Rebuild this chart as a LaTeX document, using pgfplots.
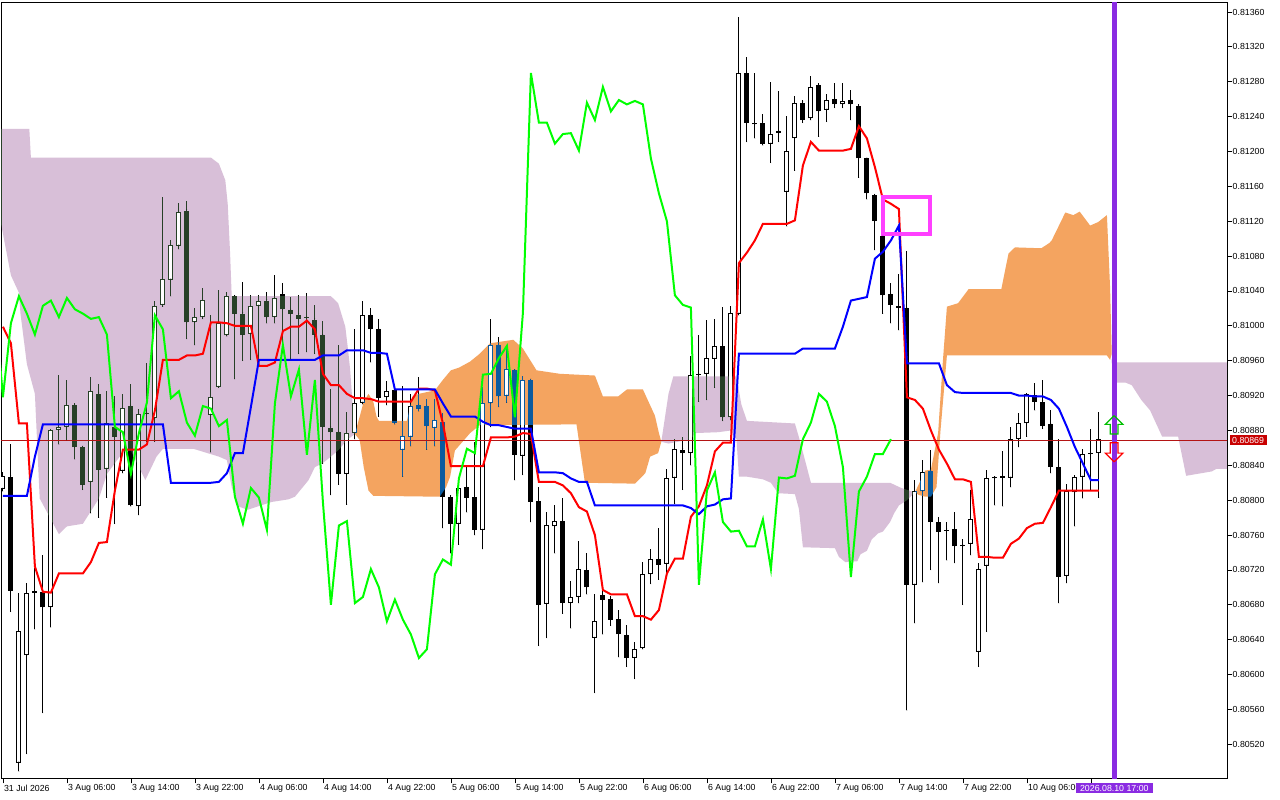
\documentclass[border=0pt]{standalone}
\usepackage{fontspec}
\setmainfont{Liberation Sans}
\usepackage{pgfplots}
\usepackage{pgfplotstable}
\pgfplotsset{compat=1.18}
\definecolor{thD}{RGB}{39,64,39}
\definecolor{orD}{RGB}{11,91,159}
\definecolor{bviolet}{RGB}{138,43,226}
\definecolor{mag}{RGB}{255,64,255}
\definecolor{pline}{RGB}{180,20,20}
\definecolor{plabel}{RGB}{200,0,0}
\definecolor{lim}{RGB}{0,255,0}
\pgfplotstableread{
i O H L C
0 0.80813 0.80832 0.80810 0.80828
1 0.80827 0.80864 0.80672 0.80696
2 0.80499 0.80693 0.80489 0.80650
3 0.80622 0.80705 0.80509 0.80694
4 0.80694 0.80722 0.80652 0.80696
5 0.80695 0.80737 0.80556 0.80677
6 0.80677 0.80882 0.80654 0.80880
7 0.80881 0.80944 0.80864 0.80884
8 0.80884 0.80938 0.80869 0.80909
9 0.80909 0.80911 0.80847 0.80861
10 0.80861 0.80862 0.80812 0.80818
11 0.80821 0.80941 0.80785 0.80925
12 0.80922 0.80933 0.80780 0.80835
13 0.80836 0.80925 0.80803 0.80889
14 0.80884 0.80920 0.80773 0.80873
15 0.80834 0.80922 0.80831 0.80906
16 0.80908 0.80933 0.80793 0.80794
17 0.80793 0.80905 0.80783 0.80899
18 0.80899 0.80957 0.80867 0.80900
19 0.80894 0.81029 0.80867 0.81023
20 0.81024 0.81148 0.81022 0.81054
21 0.81053 0.81099 0.81034 0.81093
22 0.81092 0.81141 0.81088 0.81131
23 0.81132 0.81143 0.80985 0.81004
24 0.81004 0.81020 0.80978 0.81010
25 0.81010 0.81043 0.81008 0.81030
26 0.80898 0.81012 0.80855 0.80918
27 0.80930 0.81041 0.80929 0.81003
28 0.80989 0.81039 0.80988 0.81034
29 0.81034 0.81035 0.80939 0.81014
30 0.81014 0.81050 0.80960 0.80990
31 0.80991 0.81035 0.80961 0.81023
32 0.81023 0.81035 0.80959 0.81029
33 0.81029 0.81039 0.81003 0.81010
34 0.81010 0.81058 0.81003 0.81032
35 0.81037 0.81049 0.80970 0.81019
36 0.81018 0.81033 0.80961 0.81014
37 0.81013 0.81035 0.80968 0.81008
38 0.81009 0.81038 0.80970 0.81010
39 0.81007 0.81024 0.80968 0.80990
40 0.80989 0.81005 0.80842 0.80884
41 0.80883 0.80928 0.80806 0.80878
42 0.80878 0.80978 0.80818 0.80830
43 0.80830 0.80901 0.80795 0.80877
44 0.80877 0.80996 0.80870 0.80912
45 0.80912 0.81028 0.80910 0.81012
46 0.81012 0.81020 0.80958 0.80996
47 0.80996 0.81008 0.80896 0.80917
48 0.80918 0.80937 0.80909 0.80925
49 0.80926 0.80928 0.80887 0.80889
50 0.80858 0.80931 0.80827 0.80874
51 0.80873 0.80922 0.80862 0.80908
52 0.80909 0.80941 0.80902 0.80905
53 0.80908 0.80916 0.80858 0.80885
54 0.80883 0.80916 0.80862 0.80892
55 0.80890 0.80900 0.80768 0.80804
56 0.80804 0.80806 0.80739 0.80773
57 0.80773 0.80815 0.80749 0.80814
58 0.80815 0.80840 0.80786 0.80803
59 0.80804 0.80867 0.80760 0.80766
60 0.80766 0.80930 0.80744 0.80911
61 0.80911 0.81008 0.80884 0.80978
62 0.80978 0.80987 0.80907 0.80919
63 0.80920 0.80975 0.80912 0.80950
64 0.80949 0.80951 0.80823 0.80852
65 0.80851 0.80942 0.80829 0.80938
66 0.80938 0.80939 0.80775 0.80798
67 0.80799 0.80815 0.80633 0.80680
68 0.80681 0.80786 0.80642 0.80771
69 0.80770 0.80795 0.80739 0.80776
70 0.80776 0.80802 0.80670 0.80682
71 0.80682 0.80707 0.80653 0.80689
72 0.80689 0.80753 0.80682 0.80721
73 0.80720 0.80739 0.80692 0.80700
74 0.80642 0.80692 0.80579 0.80661
75 0.80691 0.80700 0.80646 0.80686
76 0.80687 0.80690 0.80656 0.80663
77 0.80664 0.80674 0.80620 0.80646
78 0.80645 0.80657 0.80609 0.80619
79 0.80619 0.80637 0.80595 0.80629
80 0.80630 0.80729 0.80629 0.80715
81 0.80715 0.80744 0.80704 0.80732
82 0.80732 0.80768 0.80709 0.80726
83 0.80727 0.80836 0.80714 0.80825
84 0.80826 0.80870 0.80796 0.80859
85 0.80858 0.80872 0.80812 0.80854
86 0.80854 0.80965 0.80840 0.80944
87 0.80944 0.80989 0.80913 0.80945
88 0.80945 0.81007 0.80915 0.80963
89 0.80962 0.81008 0.80929 0.80977
90 0.80977 0.81022 0.80891 0.80895
91 0.80895 0.81023 0.80892 0.81015
92 0.81014 0.81354 0.81012 0.81290
93 0.81290 0.81308 0.81211 0.81233
94 0.81231 0.81290 0.81215 0.81233
95 0.81233 0.81243 0.81207 0.81209
96 0.81209 0.81280 0.81187 0.81220
97 0.81223 0.81269 0.81211 0.81221
98 0.81154 0.81241 0.81114 0.81201
99 0.81215 0.81264 0.81178 0.81256
100 0.81256 0.81259 0.81233 0.81236
101 0.81238 0.81287 0.81236 0.81274
102 0.81276 0.81278 0.81217 0.81246
103 0.81248 0.81266 0.81234 0.81259
104 0.81260 0.81279 0.81250 0.81254
105 0.81254 0.81279 0.81250 0.81258
106 0.81259 0.81271 0.81236 0.81254
107 0.81252 0.81254 0.81170 0.81192
108 0.81192 0.81193 0.81145 0.81152
109 0.81150 0.81151 0.81087 0.81120
110 0.81103 0.81108 0.81014 0.81035
111 0.81036 0.81049 0.81003 0.81024
112 0.81023 0.81060 0.80995 0.81021
113 0.81020 0.81086 0.80559 0.80703
114 0.80703 0.80823 0.80659 0.80811
115 0.80810 0.80846 0.80706 0.80832
116 0.80833 0.80858 0.80720 0.80775
117 0.80775 0.80781 0.80705 0.80764
118 0.80766 0.80775 0.80731 0.80765
119 0.80767 0.80786 0.80728 0.80747
120 0.80748 0.80756 0.80680 0.80747
121 0.80750 0.80812 0.80737 0.80778
122 0.80626 0.80728 0.80609 0.80721
123 0.80725 0.80835 0.80649 0.80826
124 0.80826 0.80828 0.80794 0.80825
125 0.80826 0.80856 0.80793 0.80828
126 0.80826 0.80884 0.80815 0.80870
127 0.80870 0.80900 0.80861 0.80889
128 0.80888 0.80923 0.80873 0.80922
129 0.80921 0.80935 0.80903 0.80913
130 0.80913 0.80938 0.80882 0.80885
131 0.80887 0.80904 0.80831 0.80838
132 0.80838 0.80870 0.80682 0.80712
133 0.80713 0.80819 0.80705 0.80810
134 0.80809 0.80829 0.80770 0.80827
135 0.80827 0.80859 0.80802 0.80853
136 0.80854 0.80882 0.80812 0.80853
137 0.80854 0.80901 0.80803 0.80870
}\candles
\pgfplotstableread{
i T K
0 0.80999 0.80805
1 0.80980 0.80805
2 0.80888 0.80805
3 0.80888 0.80805
4 0.80724 0.80850
5 0.80695 0.80887
6 0.80694 0.80887
7 0.80716 0.80887
8 0.80716 0.80887
9 0.80716 0.80887
10 0.80716 0.80887
11 0.80729 0.80887
12 0.80751 0.80887
13 0.80752 0.80887
14 0.80811 0.80887
15 0.80858 0.80887
16 0.80858 0.80887
17 0.80858 0.80887
18 0.80864 0.80887
19 0.80903 0.80887
20 0.80961 0.80887
21 0.80961 0.80820
22 0.80961 0.80820
23 0.80966 0.80820
24 0.80966 0.80820
25 0.80968 0.80820
26 0.81004 0.80820
27 0.81004 0.80821
28 0.81003 0.80831
29 0.81000 0.80854
30 0.81000 0.80854
31 0.81000 0.80907
32 0.80954 0.80961
33 0.80954 0.80961
34 0.80958 0.80961
35 0.80994 0.80961
36 0.80999 0.80961
37 0.80999 0.80961
38 0.81006 0.80961
39 0.80996 0.80961
40 0.80945 0.80966
41 0.80932 0.80966
42 0.80932 0.80966
43 0.80922 0.80972
44 0.80917 0.80972
45 0.80917 0.80972
46 0.80916 0.80969
47 0.80913 0.80969
48 0.80913 0.80968
49 0.80913 0.80927
50 0.80913 0.80927
51 0.80913 0.80927
52 0.80928 0.80927
53 0.80928 0.80927
54 0.80926 0.80927
55 0.80888 0.80911
56 0.80839 0.80896
57 0.80839 0.80896
58 0.80839 0.80896
59 0.80839 0.80896
60 0.80839 0.80890
61 0.80872 0.80886
62 0.80872 0.80886
63 0.80872 0.80884
64 0.80873 0.80882
65 0.80877 0.80882
66 0.80876 0.80882
67 0.80821 0.80832
68 0.80821 0.80832
69 0.80821 0.80832
70 0.80817 0.80831
71 0.80808 0.80825
72 0.80792 0.80821
73 0.80787 0.80821
74 0.80760 0.80794
75 0.80697 0.80794
76 0.80692 0.80794
77 0.80692 0.80794
78 0.80692 0.80794
79 0.80667 0.80794
80 0.80667 0.80794
81 0.80663 0.80794
82 0.80674 0.80794
83 0.80716 0.80794
84 0.80733 0.80794
85 0.80733 0.80794
86 0.80781 0.80791
87 0.80793 0.80784
88 0.80817 0.80793
89 0.80856 0.80795
90 0.80866 0.80801
91 0.80866 0.80802
92 0.81072 0.80968
93 0.81084 0.80968
94 0.81098 0.80968
95 0.81117 0.80968
96 0.81117 0.80968
97 0.81117 0.80968
98 0.81117 0.80968
99 0.81121 0.80968
100 0.81184 0.80974
101 0.81211 0.80974
102 0.81201 0.80974
103 0.81201 0.80974
104 0.81201 0.80974
105 0.81201 0.80999
106 0.81203 0.81029
107 0.81229 0.81031
108 0.81215 0.81033
109 0.81182 0.81077
110 0.81145 0.81085
111 0.81140 0.81098
112 0.81134 0.81115
113 0.80918 0.80957
114 0.80915 0.80957
115 0.80905 0.80957
116 0.80880 0.80957
117 0.80858 0.80957
118 0.80842 0.80932
119 0.80824 0.80924
120 0.80824 0.80923
121 0.80821 0.80923
122 0.80735 0.80923
123 0.80735 0.80923
124 0.80734 0.80923
125 0.80734 0.80923
126 0.80750 0.80923
127 0.80756 0.80920
128 0.80768 0.80920
129 0.80773 0.80919
130 0.80774 0.80919
131 0.80792 0.80915
132 0.80811 0.80905
133 0.80811 0.80884
134 0.80811 0.80861
135 0.80811 0.80842
136 0.80811 0.80823
137 0.80811 0.80823
}\lines
\def\px{0.000011466}
\begin{document}
\begin{tikzpicture}
\fill[white] (0,0) rectangle (1280pt,800pt);
\useasboundingbox (0,0) rectangle (1280pt,800pt);
\begin{axis}[
  at={(1pt,21pt)}, anchor=south west,
  scale only axis, width=1226pt, height=776pt,
  xmin=-0.2375, xmax=153.0125, ymin=0.8048022, ymax=0.8137032,
  axis line style={line width=1pt, black},
  ytick pos=right, yticklabel pos=right,
  xtick pos=bottom,
  tick align=outside, major tick length=4.5pt,
  tick style={black, line width=0.8pt},
  scaled y ticks=false,
  ytick={0.8052,0.8056,0.8060,0.8064,0.8068,0.8072,0.8076,0.8080,0.8084,0.8088,0.8092,0.8096,0.8100,0.8104,0.8108,0.8112,0.8116,0.8120,0.8124,0.8128,0.8132,0.8136},
  yticklabel style={font=\fontsize{8.8}{10}\selectfont, inner sep=0pt, xshift=1pt,
    /pgf/number format/.cd, fixed, fixed zerofill, precision=5, assume math mode=true},
  xtick={0,8,...,136},
  xticklabels={31 Jul 2026,3 Aug 06:00,3 Aug 14:00,3 Aug 22:00,4 Aug 06:00,4 Aug 14:00,4 Aug 22:00,5 Aug 06:00,5 Aug 14:00,5 Aug 22:00,6 Aug 06:00,6 Aug 14:00,6 Aug 22:00,7 Aug 06:00,7 Aug 14:00,7 Aug 22:00,10 Aug 06:00,{}},
  xticklabel style={font=\fontsize{8.8}{10}\selectfont, anchor=north west, inner sep=0pt, xshift=1pt, yshift=-1pt},
]
% wicks
\addplot[only marks, mark=*, mark size=0.01pt, mark options={draw=none, fill=none}, forget plot,
  error bars/.cd, y dir=plus, y explicit, error mark=none,
  error bar style={line width=1pt, draw=black, solid}]
  table[x=i, y=L, y error plus expr=\thisrow{H}-\thisrow{L}] {\candles};
% bodies (black outline / black fill)
\addplot[only marks, mark=*, mark size=0.01pt, mark options={draw=none, fill=none}, forget plot,
  error bars/.cd, y dir=plus, y explicit, error mark=none,
  error bar style={line width=5pt, draw=black, solid}]
  table[x=i, y expr={min(\thisrow{O},\thisrow{C})}, y error plus expr={max(abs(\thisrow{C}-\thisrow{O}),\px)}] {\candles};
% Ichimoku cloud (drawn in difference mode, as the terminal does)
\addplot[fill=thD, draw=none, blend mode=difference, forget plot] coordinates {
(-0.3,0.81226) (3.3,0.81226) (3.5,0.81193) (26,0.81193) (27,0.81186) (27.8,0.81167) (28.1,0.81140) (28.4,0.81083) (28.6,0.81034) (41,0.81034) (41.9,0.81026) (42.8,0.80999) (43.2,0.80968) (43.4,0.80950) (43.8,0.80899) (44,0.80876)
(43,0.80869) (42,0.80858) (41,0.80850) (39.9,0.80842) (39,0.80838) (38.2,0.80823) (37.4,0.80814) (36.5,0.80804) (35.7,0.80801) (33.6,0.80798) (31.9,0.80793) (30.6,0.80789) (29.4,0.80793) (28.6,0.80815) (28,0.80846) (27,0.80850) (23.8,0.80859) (20,0.80859) (19.2,0.80850) (17.8,0.80823) (16,0.80857) (15,0.80855) (13,0.80830) (12,0.80802) (10,0.80773) (8,0.80770) (7,0.80761) (4.6,0.80802) (4,0.80922) (3,0.80956) (2.2,0.81014) (2,0.81038) (1,0.81058) (0,0.81106) (-0.3,0.81120)};
\addplot[fill=orD, draw=none, blend mode=difference, forget plot] coordinates {
(44,0.80876) (44.6,0.80896) (45.1,0.80913) (45.7,0.80922) (46.3,0.80913) (46.7,0.80896) (47,0.80891) (50.5,0.80891) (51.2,0.80919) (52,0.80922) (54,0.80926) (55,0.80938) (56,0.80949) (57,0.80952) (58.4,0.80959) (59.6,0.80968) (60.9,0.80980) (63.8,0.80984) (65,0.80974) (66.7,0.80949) (69.6,0.80945) (74,0.80943) (75,0.80919) (76.9,0.80919) (78,0.80927) (80,0.80927) (81.5,0.80897) (82,0.80877) (82.3,0.80867)
(81.9,0.80854) (80.9,0.80850) (80.3,0.80831) (79,0.80819) (72.75,0.80820) (71.7,0.80887) (59.6,0.80886) (58.4,0.80877) (56.5,0.80857) (55.9,0.80827) (55.4,0.80815) (54.6,0.80804) (46.3,0.80805) (45.7,0.80811) (45.1,0.80838) (44.6,0.80869)};
\addplot[fill=thD, draw=none, blend mode=difference, forget plot] coordinates {
(82.3,0.80867) (83.2,0.80922) (83.8,0.80942) (91.7,0.80942) (92.3,0.80910) (93,0.80891) (99,0.80888) (99.6,0.80869) (101,0.80820) (110.9,0.80820) (112.3,0.80814) (114,0.80809)
(113,0.80800) (112,0.80794) (111.4,0.80785) (110.9,0.80775) (110,0.80764) (109.4,0.80762) (108.6,0.80755) (108,0.80742) (107.2,0.80738) (106.8,0.80730) (105.3,0.80729) (104.5,0.80735) (104,0.80745) (100,0.80746) (99.5,0.80790) (99,0.80807) (96.9,0.80808) (96,0.80820) (95,0.80824) (93,0.80827) (92,0.80827) (91.7,0.80870) (91,0.80880) (89.4,0.80878) (86.5,0.80877) (86,0.80870) (83.8,0.80866) (83.2,0.80865)};
\addplot[fill=orD, draw=none, blend mode=difference, forget plot] coordinates {
(114,0.80809) (115.3,0.80834) (116,0.80835) (116.9,0.80877) (117.5,0.80960) (118,0.81022) (119.4,0.81026) (120.7,0.81042) (124.8,0.81042) (125.7,0.81083) (126.5,0.81090) (129.8,0.81089) (130.8,0.81095) (131.1,0.81098) (132.8,0.81130) (133.8,0.81127) (134.6,0.81131) (135.9,0.81115) (136.9,0.81119) (138,0.81127) (138.4,0.81043) (138.6,0.80968)
(138.4,0.80961) (138,0.80966) (118,0.80966) (117.2,0.80880) (116.7,0.80815) (116,0.80804) (115.3,0.80804) (114.5,0.80806)};
\addplot[fill=thD, draw=none, blend mode=difference, forget plot] coordinates {
(138.6,0.80962) (139.2,0.80958) (153.2,0.80958) (153.2,0.80836) (151.7,0.80836) (151.1,0.80833) (147.9,0.80828) (146.9,0.80873) (144.9,0.80873) (143.4,0.80903) (142.3,0.80915) (141.1,0.80932) (140.3,0.80935) (139.2,0.80935) (138.6,0.80958)};
% hollow interiors of rising candles
\addplot[only marks, mark=*, mark size=0.01pt, mark options={draw=none, fill=none}, forget plot,
  error bars/.cd, y dir=plus, y explicit, error mark=none,
  error bar style={line width=3pt, draw=white, solid}]
  table[x=i, y expr={\thisrow{O}+\px}, y error plus expr={max(\thisrow{C}-\thisrow{O}-2*\px,0)}] {\candles};
% bid line
\addplot[pline, line width=0.7pt, forget plot] coordinates {(-1,0.80869) (154,0.80869)};
% Tenkan-sen, Kijun-sen
\addplot[red, line width=2pt, forget plot] table[x=i, y=T] {\lines};
\addplot[blue, line width=2pt, forget plot] table[x=i, y=K] {\lines};
% Chikou span (close shifted 26 bars back)
\addplot[lim, line width=2pt, forget plot] table[x expr=\thisrow{i}-26, y=C] {\candles};
% vertical line
\addplot[bviolet, line width=5.3pt, forget plot] coordinates {(138.93,0.8047) (138.93,0.8139)};
% rectangle
\addplot[mag, line width=4.3pt, line join=miter, line cap=rect, forget plot] coordinates {(110,0.81148) (115.9,0.81148) (115.9,0.81105) (110,0.81105) (110,0.81148)};
% arrows
\addplot[draw=lim!75!black, line width=1.2pt, line join=miter, forget plot] coordinates {(138.9,0.80897) (140.0,0.80887) (139.38,0.80887) (139.38,0.80876) (138.42,0.80876) (138.42,0.80887) (137.8,0.80887) (138.9,0.80897)};
\addplot[draw=red, line width=1.2pt, line join=miter, forget plot] coordinates {(138.9,0.80844) (140.0,0.80854) (139.38,0.80854) (139.38,0.80866) (138.42,0.80866) (138.42,0.80854) (137.8,0.80854) (138.9,0.80844)};
\coordinate (pl) at (axis cs:153.0125,0.80869);
\coordinate (tl) at (axis cs:138.93,0.8048022);
\end{axis}
\node[fill=plabel, text=white, inner xsep=2.5pt, inner ysep=1.6pt, anchor=west, font=\fontsize{8.8}{10}\selectfont] at ([xshift=2.5pt]pl) {0.80869};
\node[fill=bviolet, text=white, inner xsep=4pt, inner ysep=1.8pt, anchor=north, font=\fontsize{8.8}{10}\selectfont] at ([yshift=-4pt]tl) {2026.08.10 17:00};
\end{tikzpicture}
\end{document}
